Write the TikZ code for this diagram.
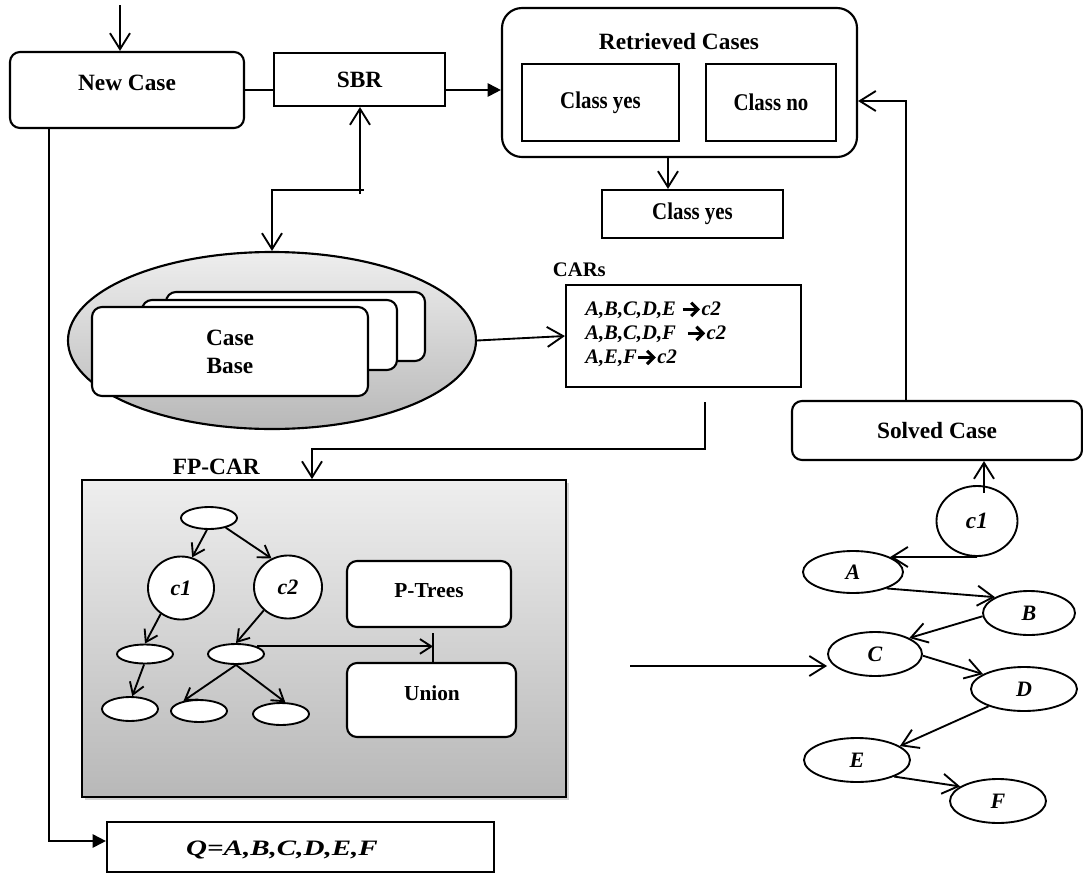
\documentclass[tikz,border=0pt]{standalone}
\usepackage{fontspec}
\setmainfont{Liberation Serif}
\usetikzlibrary{arrows.meta,shapes.geometric,shadows}

\definecolor{shtop}{RGB}{238,238,238}
\definecolor{shbot}{RGB}{184,184,184}
% thick rule arrow used inside the rule list
\newcommand\rulearrow{\tikz[baseline=0pt]\draw[line width=2.3pt,
  -{Straight Barb[length=5pt,width=10pt,line width=2.3pt]}] (0pt,4.6pt) -- (13pt,4.6pt);}
\newcommand\narrowtext[1]{\scalebox{0.87}[1]{#1}}

\begin{document}
\begin{tikzpicture}[x=0.75pt,y=-0.75pt,
  line width=1.4pt, line join=miter,
  sz/.style 2 args={minimum width=#1*0.75pt, minimum height=#2*0.75pt},
  plainbox/.style={draw, rectangle, inner sep=0pt, fill=white, line width=1.6pt},
  roundbox/.style={plainbox, rounded corners=7.5pt},
  oval/.style={draw, ellipse, inner sep=0pt, fill=white, line width=1.4pt,
    font=\fontsize{16.5}{18}\selectfont\bfseries\itshape},
  lbl/.style={font=\fontsize{17.5}{21}\selectfont\bfseries, inner sep=0pt},
  lblsm/.style={font=\fontsize{16}{19}\selectfont\bfseries, inner sep=0pt},
  lblcls/.style={font=\fontsize{18}{20}\selectfont\bfseries, inner sep=0pt},
  barb/.style={-{Straight Barb[length=12pt,width=15pt]}},
  barbsm/.style={-{Straight Barb[length=8.5pt,width=11pt]}},
  fillarrow/.style={-{Triangle[length=10pt,width=10pt]}},
]
\useasboundingbox (0,0) rectangle (1083,875);

% ---- top row: new case, SBR, retrieved cases
\node[roundbox, sz={234}{76}] (nc) at (127,90) {};
\node[lbl] (nct) at (127,83) {New Case};
\node[plainbox, sz={171}{53}, lbl] (sbr) at (359.5,79.5) {SBR};
\node[roundbox, sz={355}{149}, rounded corners=15pt] (rc) at (679.5,82.5) {};
\node[lbl] (rct) at (679,42) {Retrieved Cases};
\node[plainbox, sz={157}{77}, lblcls] (cy1) at (600.5,102.5) {\narrowtext{Class yes}};
\node[plainbox, sz={130}{77}, lblcls] (cn) at (771,102.5) {\narrowtext{Class no}};
\node[plainbox, sz={181}{48}, lblcls] (cy2) at (692.5,214) {\narrowtext{Class yes}};

% ---- case base: stacked cards inside a shaded ellipse
\node[draw, ellipse, sz={408}{177}, inner sep=0pt, line width=1.6pt,
  top color=shtop, bottom color=shbot] (cb) at (272,340.5) {};
\node[roundbox, sz={259}{69}] (card3) at (295.5,326.5) {};
\node[roundbox, sz={255}{70}] (card2) at (269.5,335) {};
\node[roundbox, sz={276}{89}, lbl, align=center] (card1) at (230,351.5) {Case\\Base};

% ---- class association rules
\node[lbl, font=\fontsize{15.5}{18}\selectfont\bfseries, anchor=west] (carsl) at (552,270) {CARs};
\node[plainbox, sz={235}{102}] (cars) at (683.5,336) {};
\node[inner sep=0pt, anchor=west, align=left,
  font=\fontsize{15.5}{18}\selectfont\bfseries\itshape] (carst) at (585,334)
  {A,B,C,D,E \rulearrow c2\\A,B,C,D,F\ \ \rulearrow c2\\A,E,F\rulearrow c2};

% ---- FP-CAR panel
\node[lbl, anchor=west] (fpl) at (172,467) {FP-CAR};
\node[draw, rectangle, sz={484}{317}, inner sep=0pt, line width=1.4pt,
  top color=shtop, bottom color=shbot,
  drop shadow={shadow xshift=2pt, shadow yshift=-2pt, opacity=0.35}] (fp) at (324,638.5) {};

\node[oval, sz={56}{22}] (r0) at (209,518) {};
\node[oval, sz={66}{63}] (tc1) at (181,588) {c1};
\node[oval, sz={68}{63}] (tc2) at (288,587) {c2};
\node[oval, sz={56}{19}] (l1) at (145,654) {};
\node[oval, sz={56}{24}] (l2) at (130,709) {};
\node[oval, sz={56}{20}] (m) at (236,654) {};
\node[oval, sz={56}{22}] (b1) at (199,711) {};
\node[oval, sz={56}{22}] (b2) at (281,714) {};
\node[roundbox, sz={164}{66}] (pt) at (429,594) {};
\node[lblsm] (ptt) at (429,591) {P-Trees};
\node[roundbox, sz={169}{74}] (un) at (431.5,700) {};
\node[lblsm] (unt) at (432,693) {Union};

% ---- solved case and its rule chain
\node[roundbox, sz={290}{59}, lbl] (sc) at (937,430.5) {Solved Case};
\node[oval, sz={81}{70}, font=\fontsize{17.5}{19}\selectfont\bfseries\itshape] (rc1) at (977,521) {c1};
\node[oval, sz={100}{42}] (na) at (853,572) {A};
\node[oval, sz={92}{44}] (nb) at (1029,613) {B};
\node[oval, sz={94}{44}] (ncc) at (875,654) {C};
\node[oval, sz={106}{44}] (nd) at (1024,689) {D};
\node[oval, sz={106}{44}] (ne) at (857,760) {E};
\node[oval, sz={96}{44}] (nf) at (998,801) {F};

% ---- query
\node[plainbox, sz={387}{50}] (q) at (300.5,847) {};
\node[inner sep=0pt, font=\fontsize{16.5}{18}\selectfont\bfseries\itshape] (qt) at (282,850)
  {\scalebox{1.32}[1]{Q=A,B,C,D,E,F}};

% ---- connectors
\coordinate (in) at (120,5);
\draw[barb] (in) -- (in |- nc.north);
\draw (nc.east) -- (nc.east -| sbr.west);
\draw[fillarrow] (nc.east -| sbr.east) -- (nc.east -| rc.west);

\coordinate (jt) at (360,194);
\coordinate (jh) at (364,190);
\coordinate (jl) at (272,190);
\draw[barb] (jt) -- (jt |- sbr.south);
\draw[barb] (jh) -- (jl) -- (cb.north);

\coordinate (rcx) at (668,0);
\draw[barb] (rc.south -| rcx) -- (cy2.north -| rcx);

\coordinate (rv) at (906,101);
\draw[barb] (sc.north -| rv) -- (rv) -- (rv -| rc.east);

\draw[barb] (cb.east) -- (cars.west);

\coordinate (cd0) at (705,402);
\coordinate (cd1) at (705,449);
\coordinate (cd2) at (312,449);
\draw[barb] (cd0) -- (cd1) -- (cd2) -- (cd2 |- fp.north);

\draw[barbsm] (r0.-100) -- (tc1.70);
\draw[barbsm] (r0.-30) -- (tc2.120);
\draw[barbsm] (tc1.-128) -- (l1.north);
\draw[barbsm] (l1.-95) -- (l2.80);
\draw[barbsm] (tc2.-136) -- (m.north);
\draw[barbsm] (m.south) -- (b1.147);
\draw[barbsm] (m.south) -- (b2.70);
\coordinate (pu) at (433,633);
\draw (pu) -- (pu |- un.north);
\draw[barbsm] (m.20) -- (m.20 -| pu);

\coordinate (fc) at (630,666);
\draw[barb] (fc) -- (fc -| ncc.west);

\coordinate (cs) at (984,493);
\draw[barb] (cs) -- (cs |- sc.south);
\draw[barb] (rc1.south) -- (na.22);
\draw[barb] (na.-26) -- (nb.155);
\draw[barb] (nb.184) -- (ncc.25);
\draw[barb] (ncc.-2) -- (nd.160);
\draw[barb] (nd.206) -- (ne.18);
\draw[barb] (ne.-24) -- (nf.159);

\coordinate (nq) at (49,841);
\draw[fillarrow] (nc.south -| nq) -- (nq) -- (nq -| q.west);
\end{tikzpicture}
\end{document}
